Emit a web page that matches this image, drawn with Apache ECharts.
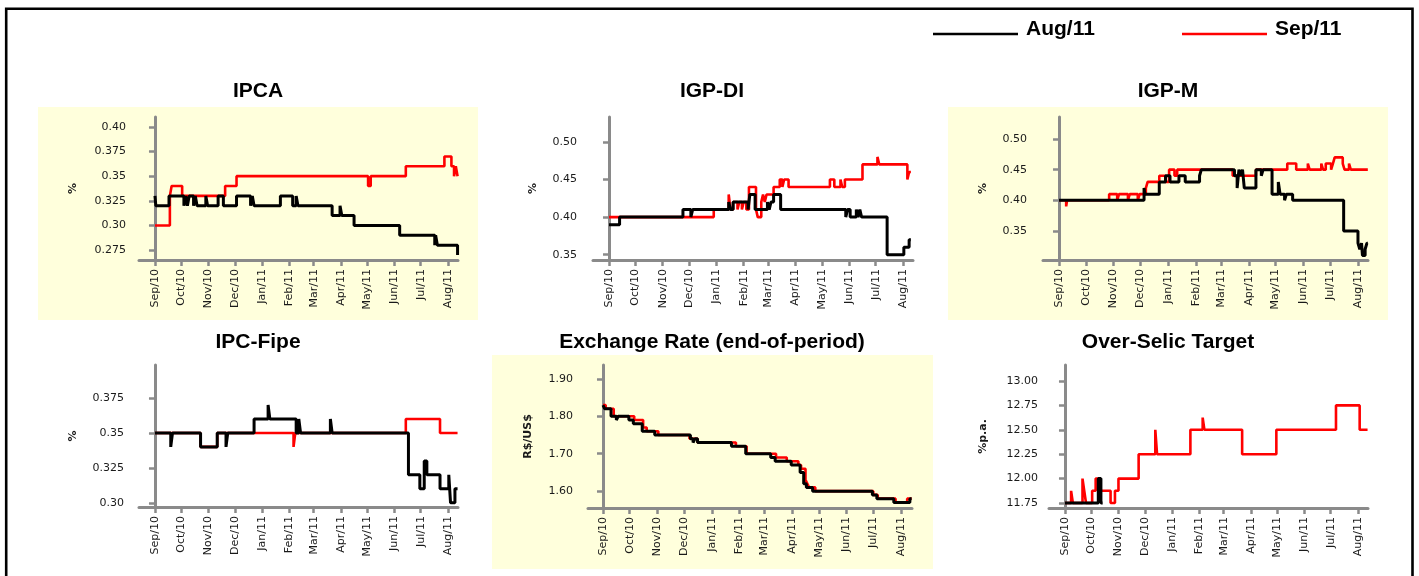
<!DOCTYPE html>
<html><head><meta charset="utf-8">
<script src="https://cdn.jsdelivr.net/npm/echarts@6/dist/echarts.min.js"></script>
<style>html,body{margin:0;padding:0;background:#fff}#c{width:1419px;height:576px}</style>
</head><body><div id="c"></div>
<script>
// Day offsets from 1 Sep 2010 and month tick labels
const monthDays = [0,30,61,91,122,153,181,212,242,273,303,334];
const monthLabels = ['Sep/10','Oct/10','Nov/10','Dec/10','Jan/11','Feb/11','Mar/11','Apr/11','May/11','Jun/11','Jul/11','Aug/11'];
const seriesNames = ['Aug/11','Sep/11'];
const panelTitles = ['IPCA','IGP-DI','IGP-M','IPC-Fipe','Exchange Rate (end-of-period)','Over-Selic Target'];
const unitNames = ['%','%','%','%','R$/US$','%p.a.'];

const ipcaTicks = [0.275,0.30,0.325,0.35,0.375,0.40];
const igpdiTicks = [0.35,0.40,0.45,0.50];
const igpmTicks = [0.35,0.40,0.45,0.50];
const fipeTicks = [0.30,0.325,0.35,0.375];
const fxTicks = [1.60,1.70,1.80,1.90];
const selicTicks = [11.75,12.00,12.25,12.50,12.75,13.00];

// [day, value] change points (value holds until next point)
const ipcaAug = [[0,0.33],[1,0.32],[16,0.33],[33,0.32],[35,0.33],[37,0.32],[39,0.33],[44,0.32],[46,0.33],[48,0.32],[58,0.33],[60,0.32],[72,0.33],[78,0.32],[93,0.33],[109,0.32],[111,0.33],[113,0.32],[143,0.33],[157,0.32],[161,0.33],[163,0.32],[202,0.31],[211,0.32],[213,0.31],[227,0.30],[279,0.29],[319,0.28],[320,0.29],[322,0.28],[345,0.27]];
const ipcaSep = [[0,0.30],[17,0.33],[19,0.34],[31,0.33],[80,0.34],[93,0.35],[243,0.34],[246,0.35],[286,0.36],[330,0.37],[338,0.36],[341,0.35],[343,0.36],[345,0.35]];

const igpdiAug = [[0,0.39],[12,0.40],[84,0.41],[93,0.40],[95,0.41],[136,0.42],[138,0.41],[141,0.42],[158,0.41],[160,0.43],[166,0.41],[180,0.42],[182,0.41],[184,0.42],[187,0.43],[195,0.41],[269,0.40],[271,0.41],[274,0.40],[281,0.41],[283,0.40],[285,0.41],[287,0.40],[316,0.35],[335,0.36],[341,0.37],[343,0.37]];
const igpdiSep = [[0,0.40],[119,0.41],[136,0.43],[138,0.41],[141,0.42],[146,0.41],[148,0.42],[151,0.41],[153,0.42],[156,0.41],[159,0.44],[167,0.41],[169,0.40],[173,0.42],[175,0.43],[177,0.42],[179,0.43],[187,0.44],[194,0.45],[197,0.44],[199,0.45],[204,0.44],[251,0.45],[256,0.44],[263,0.45],[265,0.44],[268,0.45],[288,0.47],[305,0.48],[307,0.47],[339,0.45],[341,0.46],[343,0.46]];

const igpmAug = [[0,0.40],[95,0.42],[96,0.41],[112,0.43],[119,0.44],[124,0.43],[134,0.44],[141,0.43],[157,0.44],[159,0.45],[196,0.44],[199,0.42],[201,0.45],[203,0.44],[205,0.45],[207,0.42],[220,0.45],[226,0.44],[228,0.45],[238,0.41],[245,0.43],[247,0.41],[252,0.40],[254,0.41],[261,0.40],[318,0.35],[334,0.33],[336,0.32],[338,0.33],[339,0.31],[342,0.32],[344,0.33],[345,0.33]];
const igpmSep = [[0,0.40],[8,0.39],[9,0.40],[56,0.41],[65,0.40],[67,0.41],[77,0.40],[79,0.41],[88,0.40],[90,0.41],[97,0.42],[99,0.43],[112,0.44],[119,0.43],[123,0.45],[129,0.44],[132,0.45],[194,0.44],[220,0.45],[255,0.46],[265,0.45],[278,0.46],[280,0.45],[293,0.46],[295,0.45],[298,0.46],[304,0.45],[306,0.46],[308,0.47],[317,0.46],[319,0.45],[324,0.46],[326,0.45],[345,0.45]];

const fipeAug = [[0,0.35],[18,0.34],[20,0.35],[52,0.34],[71,0.35],[81,0.34],[83,0.35],[113,0.36],[129,0.37],[131,0.36],[161,0.35],[164,0.36],[166,0.35],[200,0.36],[202,0.35],[289,0.32],[302,0.31],[307,0.33],[310,0.32],[325,0.31],[335,0.32],[337,0.30],[342,0.31],[345,0.31]];
const fipeSep = [[0,0.35],[52,0.34],[71,0.35],[158,0.34],[160,0.35],[286,0.36],[325,0.35],[345,0.35]];

const fxAug = [[0,1.83],[2,1.82],[9,1.80],[15,1.79],[17,1.80],[29,1.79],[34,1.78],[44,1.76],[58,1.75],[98,1.74],[101,1.73],[103,1.74],[106,1.73],[144,1.72],[160,1.70],[188,1.69],[193,1.68],[211,1.67],[221,1.65],[225,1.62],[228,1.61],[235,1.60],[302,1.59],[307,1.58],[326,1.57],[344,1.58],[346,1.58]];
const fxSep = [[0,1.83],[3,1.82],[12,1.80],[35,1.79],[45,1.77],[49,1.76],[62,1.75],[97,1.74],[106,1.73],[149,1.72],[161,1.70],[194,1.69],[206,1.68],[219,1.67],[222,1.66],[227,1.63],[229,1.62],[231,1.61],[238,1.60],[303,1.59],[308,1.58],[328,1.57],[341,1.58],[346,1.58]];

const selicAug = [[0,11.75],[38,12.0],[41,11.75],[43,11.75]];
const selicSep = [[0,11.75],[7,11.875],[9,11.75],[20,12.0],[22,11.875],[24,11.75],[31,11.875],[35,12.0],[40,11.875],[52,11.75],[57,11.875],[61,12.0],[84,12.25],[103,12.5],[105,12.25],[143,12.5],[157,12.625],[159,12.5],[202,12.25],[241,12.5],[309,12.75],[336,12.5],[345,12.5]];

const augData = [ipcaAug, igpdiAug, igpmAug, fipeAug, fxAug, selicAug];
const sepData = [ipcaSep, igpdiSep, igpmSep, fipeSep, fxSep, selicSep];
const tickData = [ipcaTicks, igpdiTicks, igpmTicks, fipeTicks, fxTicks, selicTicks];

// layout (pixels)
const layout = [
  {l:139, t:117, w:319, h:143, ymin:0.265, ymax:0.41, xmin:-18.2, xmax:345.5, tx:258, ty:91, gap:60, lm:13, bg:[38,107,440,213]},
  {l:593, t:117, w:320, h:143, ymin:0.343, ymax:0.533, xmin:-18.2, xmax:345.4, tx:712, ty:91, gap:54, lm:16, bg:null},
  {l:1043, t:117, w:325, h:143, ymin:0.3025, ymax:0.536, xmin:-17.9, xmax:345.2, tx:1168, ty:91, gap:54, lm:16, bg:[948,107,440,213]},
  {l:139, t:365, w:319, h:142, ymin:0.297, ymax:0.3986, xmin:-18.2, xmax:345.5, tx:258, ty:342, gap:60, lm:15, bg:null},
  {l:588, t:365, w:324, h:143, ymin:1.555, ymax:1.937, xmin:-16.8, xmax:346.4, tx:712, ty:342, gap:54, lm:15, bg:[492,355,441,214]},
  {l:1049, t:365, w:319, h:143, ymin:11.699, ymax:13.164, xmin:-18.2, xmax:345.5, tx:1168, ty:342, gap:60, lm:11, bg:null}
];

const AX = '#8a8a8a';
const FONT = 'DejaVu Sans';
const yFmt = v => { const s = v.toFixed(3); return s.endsWith('0') ? v.toFixed(2) : s; };

const grids = [], xAxes = [], yAxes = [], series = [], graphics = [];
graphics.push({type:'rect', z:-100, shape:{x:6.2, y:8.8, width:1406.3, height:620}, style:{fill:'none', stroke:'#000', lineWidth:2.6}});
layout.forEach((L, i) => {
  if (L.bg) graphics.push({type:'rect', z:-100, shape:{x:L.bg[0], y:L.bg[1], width:L.bg[2], height:L.bg[3]}, style:{fill:'#ffffdc'}});
  graphics.push({type:'text', x:L.tx, y:L.ty, style:{text:panelTitles[i], font:'bold 21px "Liberation Sans", Arial, sans-serif', fill:'#000', align:'center', verticalAlign:'middle'}});
  grids.push({left:L.l, top:L.t, width:L.w, height:L.h, containLabel:false, outerBoundsMode:'none'});
  xAxes.push({
    type:'value', gridIndex:i, min:L.xmin, max:L.xmax,
    axisLine:{onZero:false, lineStyle:{color:AX, width:3}},
    axisTick:{show:true, customValues:monthDays, length:6, lineStyle:{color:AX, width:2.5}},
    axisLabel:{customValues:monthDays, rotate:90, margin:9, fontSize:11, fontFamily:FONT, color:'#1a1a1a',
      formatter: v => { const k = monthDays.indexOf(Math.round(v)); return k >= 0 ? monthLabels[k] : ''; }},
    splitLine:{show:false}
  });
  yAxes.push({
    type:'value', gridIndex:i, min:L.ymin, max:L.ymax,
    name:unitNames[i], nameLocation:'middle', nameGap:L.gap,
    nameTextStyle:{fontSize:11, fontWeight:'bold', color:'#1a1a1a', fontFamily:FONT},
    axisLine:{show:true, lineStyle:{color:AX, width:3}},
    axisTick:{show:true, customValues:tickData[i], length:6, lineStyle:{color:AX, width:2.5}},
    axisLabel:{customValues:tickData[i], margin:L.lm, fontSize:11, fontFamily:FONT, color:'#1a1a1a', formatter:yFmt},
    splitLine:{show:false}
  });
  series.push({name:seriesNames[1], type:'line', xAxisIndex:i, yAxisIndex:i, data:sepData[i], step:'end',
    showSymbol:false, symbol:'none', z:2, color:'#ff0000', lineStyle:{color:'#ff0000', width:2.6}, itemStyle:{color:'#ff0000'}});
  series.push({name:seriesNames[0], type:'line', xAxisIndex:i, yAxisIndex:i, data:augData[i], step:'end',
    showSymbol:false, symbol:'none', z:3, color:'#000000', lineStyle:{color:'#000000', width:3}, itemStyle:{color:'#000000'}});
});

// legend icon: thin line sitting below the text's middle
const legendIcon = 'path://M0,0 L0.01,0 L0.01,0.01 Z M0,10 L85,10 L85,12.5 L0,12.5 Z';
const legendText = {fontSize:21, fontWeight:'bold', fontFamily:'"Liberation Sans", Arial, sans-serif', color:'#000', padding:[0,0,0,3]};
const option = {
  animation:false,
  backgroundColor:'#ffffff',
  legend:[
    {data:[seriesNames[0]], left:933, top:18.5, padding:0, itemWidth:85, itemHeight:12.5, icon:legendIcon, textStyle:legendText},
    {data:[seriesNames[1]], left:1182, top:18.5, padding:0, itemWidth:85, itemHeight:12.5, icon:legendIcon, textStyle:legendText}
  ],
  grid:grids, xAxis:xAxes, yAxis:yAxes, series:series, graphic:graphics
};
const chart = echarts.init(document.getElementById('c'), null, {renderer:'canvas'});
chart.setOption(option);
</script></body></html>
